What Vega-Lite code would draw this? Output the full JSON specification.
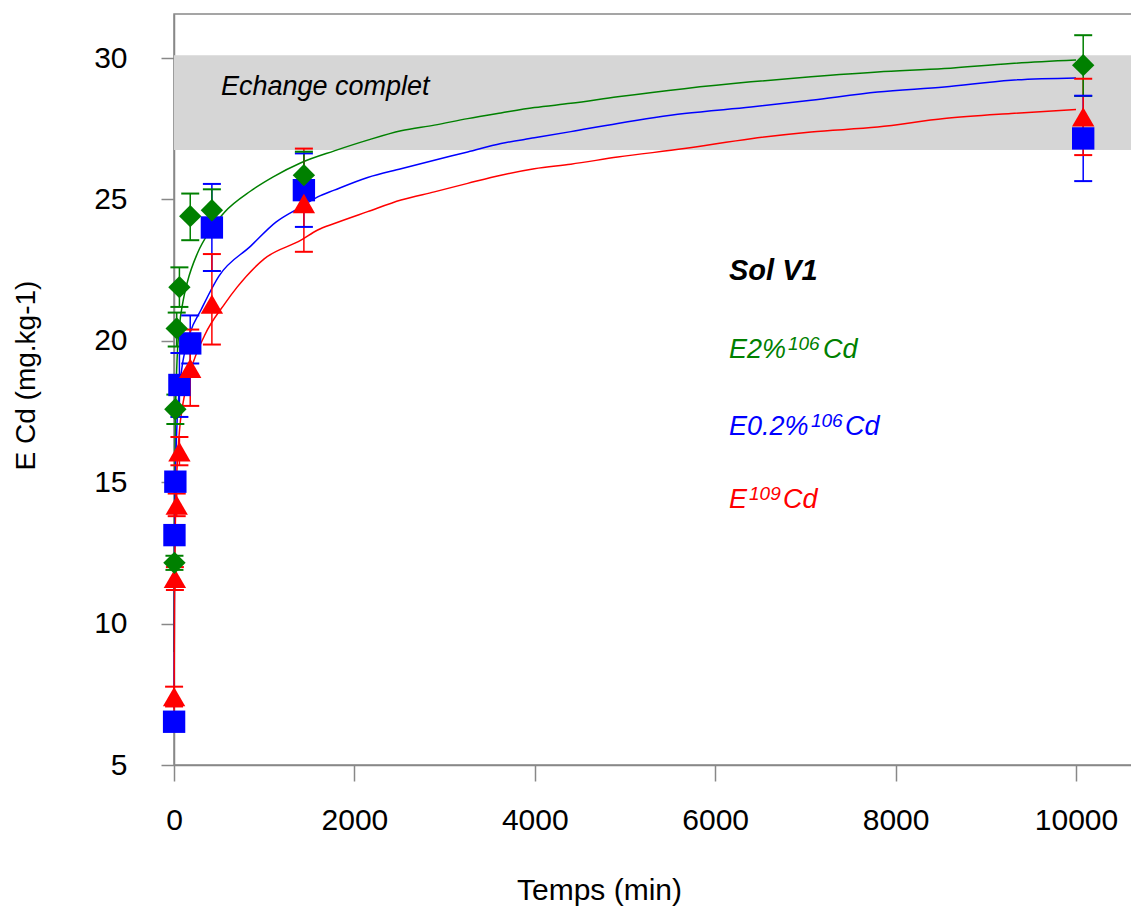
{
  "$schema": "https://vega.github.io/schema/vega-lite/v6.json",
  "width": 958,
  "height": 751,
  "autosize": {"type": "none"},
  "padding": {"left": 174, "top": 14, "right": 0, "bottom": 146},
  "background": "white",
  "config": {
    "view": {"stroke": "#888888", "strokeWidth": 1.5},
    "font": "Liberation Sans",
    "axis": {
      "domainColor": "#888888", "domainWidth": 1.5, "tickColor": "#888888", "tickWidth": 1.5,
      "grid": false, "labelFont": "Liberation Sans", "labelFontSize": 30, "labelColor": "black",
      "titleFont": "Liberation Sans", "titleFontWeight": "normal", "titleColor": "black"
    }
  },
  "datasets": {
    "zone": [{"zone": "Echange complet", "lo": 26.75, "hi": 30.1}],
    "curves": [
      {"series": "E2%106Cd", "t": 1, "v": 9.0}, {"series": "E2%106Cd", "t": 5, "v": 13.0}, {"series": "E2%106Cd", "t": 15, "v": 17.0},
      {"series": "E2%106Cd", "t": 30, "v": 19.0}, {"series": "E2%106Cd", "t": 60, "v": 20.5}, {"series": "E2%106Cd", "t": 100, "v": 21.4},
      {"series": "E2%106Cd", "t": 150, "v": 22.1}, {"series": "E2%106Cd", "t": 260, "v": 23.1}, {"series": "E2%106Cd", "t": 400, "v": 23.9},
      {"series": "E2%106Cd", "t": 560, "v": 24.55}, {"series": "E2%106Cd", "t": 850, "v": 25.3}, {"series": "E2%106Cd", "t": 1100, "v": 25.8},
      {"series": "E2%106Cd", "t": 1408, "v": 26.3}, {"series": "E2%106Cd", "t": 1777, "v": 26.72}, {"series": "E2%106Cd", "t": 2147, "v": 27.1},
      {"series": "E2%106Cd", "t": 2517, "v": 27.43}, {"series": "E2%106Cd", "t": 2886, "v": 27.63}, {"series": "E2%106Cd", "t": 3256, "v": 27.86},
      {"series": "E2%106Cd", "t": 3625, "v": 28.06}, {"series": "E2%106Cd", "t": 3995, "v": 28.25}, {"series": "E2%106Cd", "t": 4400, "v": 28.4},
      {"series": "E2%106Cd", "t": 4919, "v": 28.63}, {"series": "E2%106Cd", "t": 5658, "v": 28.92}, {"series": "E2%106Cd", "t": 6397, "v": 29.16},
      {"series": "E2%106Cd", "t": 7062, "v": 29.34}, {"series": "E2%106Cd", "t": 7801, "v": 29.51}, {"series": "E2%106Cd", "t": 8540, "v": 29.63},
      {"series": "E2%106Cd", "t": 9279, "v": 29.81}, {"series": "E2%106Cd", "t": 10000, "v": 29.93},
      {"series": "E0.2%106Cd", "t": 1, "v": 7.0}, {"series": "E0.2%106Cd", "t": 5, "v": 12.0}, {"series": "E0.2%106Cd", "t": 15, "v": 15.0},
      {"series": "E0.2%106Cd", "t": 30, "v": 16.8}, {"series": "E0.2%106Cd", "t": 60, "v": 18.3}, {"series": "E0.2%106Cd", "t": 100, "v": 19.3},
      {"series": "E0.2%106Cd", "t": 180, "v": 20.3}, {"series": "E0.2%106Cd", "t": 300, "v": 21.1}, {"series": "E0.2%106Cd", "t": 500, "v": 22.3},
      {"series": "E0.2%106Cd", "t": 850, "v": 23.35}, {"series": "E0.2%106Cd", "t": 1130, "v": 24.2}, {"series": "E0.2%106Cd", "t": 1408, "v": 24.74},
      {"series": "E0.2%106Cd", "t": 1593, "v": 25.09}, {"series": "E0.2%106Cd", "t": 1777, "v": 25.33}, {"series": "E0.2%106Cd", "t": 2147, "v": 25.78},
      {"series": "E0.2%106Cd", "t": 2517, "v": 26.09}, {"series": "E0.2%106Cd", "t": 2886, "v": 26.39}, {"series": "E0.2%106Cd", "t": 3256, "v": 26.68},
      {"series": "E0.2%106Cd", "t": 3625, "v": 26.98}, {"series": "E0.2%106Cd", "t": 3995, "v": 27.18}, {"series": "E0.2%106Cd", "t": 4400, "v": 27.4},
      {"series": "E0.2%106Cd", "t": 4919, "v": 27.69}, {"series": "E0.2%106Cd", "t": 5658, "v": 28.04}, {"series": "E0.2%106Cd", "t": 6397, "v": 28.27},
      {"series": "E0.2%106Cd", "t": 7062, "v": 28.51}, {"series": "E0.2%106Cd", "t": 7801, "v": 28.8}, {"series": "E0.2%106Cd", "t": 8540, "v": 28.98},
      {"series": "E0.2%106Cd", "t": 9279, "v": 29.22}, {"series": "E0.2%106Cd", "t": 10000, "v": 29.3},
      {"series": "E109Cd", "t": 1, "v": 6.9}, {"series": "E109Cd", "t": 5, "v": 10.5}, {"series": "E109Cd", "t": 15, "v": 13.5},
      {"series": "E109Cd", "t": 30, "v": 15.2}, {"series": "E109Cd", "t": 60, "v": 16.8}, {"series": "E109Cd", "t": 100, "v": 17.8},
      {"series": "E109Cd", "t": 190, "v": 19.0}, {"series": "E109Cd", "t": 340, "v": 20.2}, {"series": "E109Cd", "t": 560, "v": 21.3},
      {"series": "E109Cd", "t": 700, "v": 21.9}, {"series": "E109Cd", "t": 1000, "v": 22.9}, {"series": "E109Cd", "t": 1408, "v": 23.56},
      {"series": "E109Cd", "t": 1593, "v": 23.92}, {"series": "E109Cd", "t": 1777, "v": 24.15}, {"series": "E109Cd", "t": 2147, "v": 24.57},
      {"series": "E109Cd", "t": 2517, "v": 24.98}, {"series": "E109Cd", "t": 2886, "v": 25.27}, {"series": "E109Cd", "t": 3256, "v": 25.57},
      {"series": "E109Cd", "t": 3625, "v": 25.86}, {"series": "E109Cd", "t": 3995, "v": 26.09}, {"series": "E109Cd", "t": 4400, "v": 26.25},
      {"series": "E109Cd", "t": 4919, "v": 26.5}, {"series": "E109Cd", "t": 5658, "v": 26.8}, {"series": "E109Cd", "t": 6397, "v": 27.15},
      {"series": "E109Cd", "t": 7062, "v": 27.39}, {"series": "E109Cd", "t": 7801, "v": 27.56}, {"series": "E109Cd", "t": 8540, "v": 27.86},
      {"series": "E109Cd", "t": 9279, "v": 28.04}, {"series": "E109Cd", "t": 10000, "v": 28.18}
    ],
    "points": [
      {"series": "E0.2%106Cd", "t": 1, "v": 6.53, "lo": 6.3, "hi": 6.75},
      {"series": "E0.2%106Cd", "t": 5, "v": 13.13, "lo": 12.85, "hi": 13.4},
      {"series": "E0.2%106Cd", "t": 15, "v": 15.02, "lo": 14.7, "hi": 15.3},
      {"series": "E0.2%106Cd", "t": 60, "v": 18.44, "lo": 17.31, "hi": 19.57},
      {"series": "E0.2%106Cd", "t": 180, "v": 19.91, "lo": 19.2, "hi": 20.9},
      {"series": "E0.2%106Cd", "t": 420, "v": 24.01, "lo": 22.47, "hi": 25.55},
      {"series": "E0.2%106Cd", "t": 1440, "v": 25.33, "lo": 24.03, "hi": 26.63},
      {"series": "E0.2%106Cd", "t": 10080, "v": 27.16, "lo": 25.65, "hi": 28.67},
      {"series": "E109Cd", "t": 1, "v": 7.42, "lo": 7.07, "hi": 7.77},
      {"series": "E109Cd", "t": 10, "v": 11.6, "lo": 11.19, "hi": 12.0},
      {"series": "E109Cd", "t": 30, "v": 14.19, "lo": 13.8, "hi": 14.6},
      {"series": "E109Cd", "t": 60, "v": 16.08, "lo": 15.6, "hi": 16.6},
      {"series": "E109Cd", "t": 180, "v": 19.03, "lo": 17.7, "hi": 20.4},
      {"series": "E109Cd", "t": 420, "v": 21.3, "lo": 19.87, "hi": 23.07},
      {"series": "E109Cd", "t": 1440, "v": 24.86, "lo": 23.15, "hi": 26.8},
      {"series": "E109Cd", "t": 10080, "v": 27.92, "lo": 26.57, "hi": 29.27},
      {"series": "E2%106Cd", "t": 5, "v": 12.15, "lo": 11.9, "hi": 12.4},
      {"series": "E2%106Cd", "t": 15, "v": 17.58, "lo": 17.06, "hi": 18.1},
      {"series": "E2%106Cd", "t": 30, "v": 20.44, "lo": 19.8, "hi": 21.0},
      {"series": "E2%106Cd", "t": 60, "v": 21.9, "lo": 21.2, "hi": 22.6},
      {"series": "E2%106Cd", "t": 180, "v": 24.41, "lo": 23.56, "hi": 25.21},
      {"series": "E2%106Cd", "t": 420, "v": 24.62, "lo": 23.9, "hi": 25.36},
      {"series": "E2%106Cd", "t": 1440, "v": 25.86, "lo": 25.0, "hi": 26.69},
      {"series": "E2%106Cd", "t": 10080, "v": 29.75, "lo": 28.66, "hi": 30.81}
    ],
    "texts": [
      {"kind": "zone", "series": "", "text": "Echange complet", "t": 521, "v": 28.69},
      {"kind": "head", "series": "", "text": "Sol V1", "t": 6153, "v": 22.15},
      {"kind": "main", "series": "E2%106Cd", "text": "E2%", "t": 6153, "v": 19.39},
      {"kind": "sup", "series": "E2%106Cd", "text": "106", "t": 6807, "v": 19.39},
      {"kind": "main", "series": "E2%106Cd", "text": "Cd", "t": 7195, "v": 19.39},
      {"kind": "main", "series": "E0.2%106Cd", "text": "E0.2%", "t": 6153, "v": 16.67},
      {"kind": "sup", "series": "E0.2%106Cd", "text": "106", "t": 7062, "v": 16.67},
      {"kind": "main", "series": "E0.2%106Cd", "text": "Cd", "t": 7439, "v": 16.67},
      {"kind": "main", "series": "E109Cd", "text": "E", "t": 6153, "v": 14.09},
      {"kind": "sup", "series": "E109Cd", "text": "109", "t": 6375, "v": 14.09},
      {"kind": "main", "series": "E109Cd", "text": "Cd", "t": 6752, "v": 14.09}
    ]
  },
  "layer": [
    {
      "data": {"name": "zone"},
      "mark": {"type": "rect", "color": "#d6d6d6"},
      "encoding": {
        "y": {"field": "lo", "type": "quantitative", "scale": {"domain": [5, 31.56], "nice": false, "zero": false},
          "axis": {"values": [5, 10, 15, 20, 25, 30], "tickSize": 13, "labelPadding": 34, "title": "E Cd (mg.kg-1)", "titleFontSize": 28,
            "titleAngle": 270, "titleX": -148, "titleY": 361, "titleAlign": "center", "titleBaseline": "middle"}},
        "y2": {"field": "hi"}
      }
    },
    {
      "data": {"name": "curves"},
      "mark": {"type": "line", "strokeWidth": 1.5, "interpolate": "monotone"},
      "encoding": {
        "x": {"field": "t", "type": "quantitative", "scale": {"domain": [0, 10621], "nice": false, "zero": false},
          "axis": {"values": [0, 2000, 4000, 6000, 8000, 10000], "format": "d", "tickSize": 16, "labelPadding": 24, "labelFlush": false, "labelOverlap": false,
            "title": "Temps (min)", "titleFontSize": 30, "titleX": 425, "titleY": 134, "titleAlign": "center", "titleBaseline": "alphabetic"}},
        "y": {"field": "v", "type": "quantitative", "scale": {"domain": [5, 31.56], "nice": false, "zero": false}},
        "color": {"field": "series", "type": "nominal", "scale": {"domain": ["E2%106Cd", "E0.2%106Cd", "E109Cd"], "range": ["#008000", "#0000ff", "#ff0000"]}, "legend": null},
        "detail": {"field": "series"}
      }
    },
    {
      "data": {"name": "points"},
      "mark": {"type": "rule", "strokeWidth": 1.5},
      "encoding": {
        "x": {"field": "t", "type": "quantitative", "scale": {"domain": [0, 10621], "nice": false, "zero": false}},
        "y": {"field": "lo", "type": "quantitative", "scale": {"domain": [5, 31.56], "nice": false, "zero": false}},
        "y2": {"field": "hi"},
        "color": {"field": "series", "type": "nominal", "legend": null}
      }
    },
    {
      "data": {"name": "points"},
      "mark": {"type": "tick", "orient": "horizontal", "size": 18, "thickness": 2, "opacity": 1},
      "encoding": {
        "x": {"field": "t", "type": "quantitative", "scale": {"domain": [0, 10621], "nice": false, "zero": false}},
        "y": {"field": "lo", "type": "quantitative", "scale": {"domain": [5, 31.56], "nice": false, "zero": false}},
        "color": {"field": "series", "type": "nominal", "legend": null}
      }
    },
    {
      "data": {"name": "points"},
      "mark": {"type": "tick", "orient": "horizontal", "size": 18, "thickness": 2, "opacity": 1},
      "encoding": {
        "x": {"field": "t", "type": "quantitative", "scale": {"domain": [0, 10621], "nice": false, "zero": false}},
        "y": {"field": "hi", "type": "quantitative", "scale": {"domain": [5, 31.56], "nice": false, "zero": false}},
        "color": {"field": "series", "type": "nominal", "legend": null}
      }
    },
    {
      "data": {"name": "points"},
      "mark": {"type": "point", "filled": true, "opacity": 1, "size": 500},
      "encoding": {
        "x": {"field": "t", "type": "quantitative", "scale": {"domain": [0, 10621], "nice": false, "zero": false}},
        "y": {"field": "v", "type": "quantitative", "scale": {"domain": [5, 31.56], "nice": false, "zero": false}},
        "color": {"field": "series", "type": "nominal", "legend": null},
        "shape": {"field": "series", "type": "nominal", "scale": {"domain": ["E2%106Cd", "E0.2%106Cd", "E109Cd"], "range": ["diamond", "square", "triangle-up"]}, "legend": null}
      }
    },
    {
      "data": {"name": "texts"},
      "transform": [{"filter": "datum.kind === 'zone'"}],
      "mark": {"type": "text", "font": "Liberation Sans", "fontSize": 27, "fontStyle": "italic", "align": "left", "baseline": "alphabetic", "color": "black"},
      "encoding": {
        "x": {"field": "t", "type": "quantitative", "scale": {"domain": [0, 10621], "nice": false, "zero": false}},
        "y": {"field": "v", "type": "quantitative", "scale": {"domain": [5, 31.56], "nice": false, "zero": false}},
        "text": {"field": "text"}
      }
    },
    {
      "data": {"name": "texts"},
      "transform": [{"filter": "datum.kind === 'head'"}],
      "mark": {"type": "text", "font": "Liberation Sans", "fontSize": 29, "fontStyle": "italic", "fontWeight": "bold", "align": "left", "baseline": "alphabetic", "color": "black"},
      "encoding": {
        "x": {"field": "t", "type": "quantitative", "scale": {"domain": [0, 10621], "nice": false, "zero": false}},
        "y": {"field": "v", "type": "quantitative", "scale": {"domain": [5, 31.56], "nice": false, "zero": false}},
        "text": {"field": "text"}
      }
    },
    {
      "data": {"name": "texts"},
      "transform": [{"filter": "datum.kind === 'main'"}],
      "mark": {"type": "text", "font": "Liberation Sans", "fontSize": 27, "fontStyle": "italic", "align": "left", "baseline": "alphabetic"},
      "encoding": {
        "x": {"field": "t", "type": "quantitative", "scale": {"domain": [0, 10621], "nice": false, "zero": false}},
        "y": {"field": "v", "type": "quantitative", "scale": {"domain": [5, 31.56], "nice": false, "zero": false}},
        "color": {"field": "series", "type": "nominal", "legend": null},
        "text": {"field": "text"}
      }
    },
    {
      "data": {"name": "texts"},
      "transform": [{"filter": "datum.kind === 'sup'"}],
      "mark": {"type": "text", "font": "Liberation Sans", "fontSize": 19, "fontStyle": "italic", "align": "left", "baseline": "alphabetic", "dy": -8},
      "encoding": {
        "x": {"field": "t", "type": "quantitative", "scale": {"domain": [0, 10621], "nice": false, "zero": false}},
        "y": {"field": "v", "type": "quantitative", "scale": {"domain": [5, 31.56], "nice": false, "zero": false}},
        "color": {"field": "series", "type": "nominal", "legend": null},
        "text": {"field": "text"}
      }
    }
  ]
}
